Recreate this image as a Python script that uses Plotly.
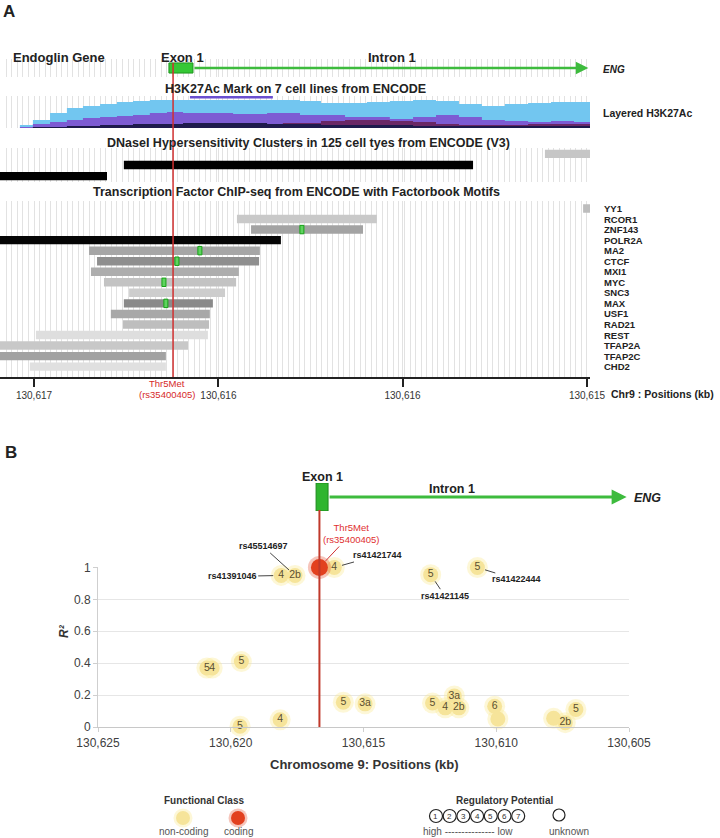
import plotly.graph_objects as go

W, H = 720, 838
FONT = "Liberation Sans, Arial, sans-serif"
NARROW = "Liberation Sans Narrow, Liberation Sans, Arial, sans-serif"

# ---------------- Panel A data (chr9 positions, kb) ----------------
A_RANGE = [130617.123, 130614.989]
A_TICK_VALS = [130617.0, 130616.333, 130615.667, 130615.0]
A_TICK_LABELS = ["130,617", "130,616", "130,616", "130,615"]
SNP_A = 130616.497

GENE_A_EXON = [130616.512, 130616.425]
GENE_A_END = 130614.995

H3K_POS = [130617.123, 130617.051, 130617.004, 130616.942, 130616.881, 130616.823,
           130616.761, 130616.700, 130616.642, 130616.581, 130616.519, 130616.461,
           130616.400, 130616.280, 130616.157, 130616.100, 130616.038, 130615.962,
           130615.875, 130615.796, 130615.713, 130615.629, 130615.546, 130615.463,
           130615.380, 130615.297, 130615.213, 130615.130, 130615.047, 130614.989]
H3K_LIGHTBLUE = [0, 3, 8, 15, 20, 22, 24, 26, 27, 28, 28, 28, 28, 28, 28, 28, 27, 25,
                 25, 26, 27, 28, 27, 24, 22, 24, 25, 26, 26, 23]
H3K_PURPLE = [0, 1, 4, 6, 8, 10, 11, 12, 13, 15, 16, 15, 15, 14, 15, 15, 13, 13,
              11, 11, 9, 11, 13, 11, 8, 7, 6, 7, 6, 6]
H3K_PLUM = [0, 0, 1, 1, 1, 2, 2, 2, 2, 2, 3, 3, 3, 3, 4, 5, 5, 7,
            8, 8, 7, 6, 4, 3, 3, 3, 4, 4, 4, 3]
H3K_NAVY = [0, 0, 1, 1, 2, 2, 3, 3, 4, 4, 4, 5, 5, 5, 4, 4, 4, 3,
            3, 3, 3, 2, 2, 2, 2, 2, 2, 2, 2, 2]
H3K_PEAK = [130616.436, 130616.136]
H3K_PEAK_LEVEL = 30.8

DNASE_START = [130615.152, 130616.675, 130617.2]
DNASE_END = [130614.989, 130615.412, 130616.736]
DNASE_ROW = [0, 1, 2]
DNASE_SHADE = ["#c6c6c6", "#000000", "#000000"]

TF_NAMES = ["YY1", "RCOR1", "ZNF143", "POLR2A", "MA2", "CTCF", "MXI1", "MYC", "SNC3",
            "MAX", "USF1", "RAD21", "REST", "TFAP2A", "TFAP2C", "CHD2"]
TF_START = [130615.014, 130616.266, 130616.215, 130617.2, 130616.801, 130616.772,
            130616.794, 130616.747, 130616.656, 130616.675, 130616.722, 130616.678,
            130616.993, 130617.2, 130617.2, 130617.015]
TF_END = [130614.989, 130615.760, 130615.810, 130616.107, 130616.183, 130616.186,
          130616.259, 130616.269, 130616.309, 130616.353, 130616.364, 130616.367,
          130616.371, 130616.443, 130616.523, 130616.523]
TF_SHADE = ["#bdbdbd", "#c9c9c9", "#a3a3a3", "#050505", "#a6a6a6", "#8f8f8f",
            "#adadad", "#c3c3c3", "#cdcdcd", "#8a8a8a", "#a8a8a8", "#bebebe",
            "#dedede", "#c8c8c8", "#a2a2a2", "#e0e0e0"]
MOTIF_TF = ["ZNF143", "MA2", "CTCF", "MYC", "MAX"]
MOTIF_POS = [130616.031, 130616.400, 130616.483, 130616.530, 130616.523]
MOTIF_LEN = 0.0145

# ---------------- Panel B data ----------------
B_TICK_VALS = [130625, 130620, 130615, 130610, 130605]
B_TICK_LABELS = ["130,625", "130,620", "130,615", "130,610", "130,605"]
R2_TICKS = [0, 0.2, 0.4, 0.6, 0.8, 1]
R2_LABELS = ["0", "0.2", "0.4", "0.6", "0.8", "1"]

SNP_B = 130616.66
SNP_B_R2 = 1.0
GENE_B_EXON = [130616.786, 130616.335]
GENE_B_END = 130605.09

NC_POS = [130620.90, 130620.70, 130619.60, 130619.65, 130618.14, 130618.10, 130617.58,
          130616.10, 130615.76, 130614.94, 130612.47, 130610.71, 130612.40, 130611.92,
          130611.58, 130611.41, 130610.06, 130609.94, 130607.84, 130607.40, 130607.00]
NC_R2 = [0.37, 0.37, 0.41, 0.005, 0.045, 0.95, 0.95, 1.0, 0.155, 0.145, 0.955, 1.0,
         0.15, 0.12, 0.195, 0.12, 0.13, 0.05, 0.055, 0.027, 0.11]
NC_RDB = ["5", "4", "5", "5", "4", "4", "2b", "4", "5", "3a", "5", "5", "5", "4",
          "3a", "2b", "6", "", "", "2b", "5"]

RS_IDS = ["rs41391046", "rs45514697", "rs41421744", "rs41421145", "rs41422444"]
RS_POS = [130618.10, 130617.58, 130616.10, 130612.47, 130610.71]
RS_R2 = [0.95, 0.95, 1.0, 0.955, 1.0]
RS_OFFSET = [(-49, 1), (-32, -29), (43, -12), (14, 21), (39, 12)]

RP_LEVELS = ["1", "2", "3", "4", "5", "6", "7"]


def pxx(x):
    return x / W


def pxy(y):
    return 1 - y / H


fig = go.Figure()

# ---- H3K27Ac layered signal ----
for vals, col in [(H3K_LIGHTBLUE, "#72c6f0"), (H3K_PURPLE, "#7d5bd3"),
                  (H3K_PLUM, "#6a2766"), (H3K_NAVY, "#1e1a4d")]:
    fig.add_trace(go.Scatter(x=H3K_POS, y=vals, mode="lines", line=dict(width=0, shape="hv"),
                             fill="tozeroy", fillcolor=col, xaxis="x", yaxis="y3",
                             hoverinfo="skip"))
fig.add_trace(go.Scatter(x=H3K_PEAK, y=[H3K_PEAK_LEVEL] * 2, mode="lines",
                         line=dict(color="#6a4fd0", width=2.5), xaxis="x", yaxis="y3"))

# ---- DNase clusters ----
fig.add_trace(go.Bar(orientation="h", y=DNASE_ROW, base=DNASE_END,
                     x=[s - e for s, e in zip(DNASE_START, DNASE_END)],
                     marker=dict(color=DNASE_SHADE, line=dict(width=0)), width=0.75,
                     xaxis="x", yaxis="y2"))

# ---- TF ChIP-seq ----
fig.add_trace(go.Bar(orientation="h", y=list(range(len(TF_NAMES))), base=TF_END,
                     x=[s - e for s, e in zip(TF_START, TF_END)],
                     marker=dict(color=TF_SHADE, line=dict(width=0)), width=0.8,
                     xaxis="x", yaxis="y"))
fig.add_trace(go.Bar(orientation="h", y=[TF_NAMES.index(t) for t in MOTIF_TF],
                     base=[p - MOTIF_LEN / 2 for p in MOTIF_POS], x=[MOTIF_LEN] * len(MOTIF_POS),
                     marker=dict(color="#5fd35f", line=dict(color="#17a317", width=1)),
                     width=0.8, xaxis="x", yaxis="y"))

# ---- Gene model A ----
fig.add_trace(go.Bar(orientation="h", y=[0.5], base=[GENE_A_EXON[1]],
                     x=[GENE_A_EXON[0] - GENE_A_EXON[1]],
                     marker=dict(color="#35c835", line=dict(color="#1f951f", width=1)),
                     width=0.56, xaxis="x", yaxis="y4"))

# ---- Panel B gene model ----
fig.add_trace(go.Bar(orientation="h", y=[0.5], base=[GENE_B_EXON[1]],
                     x=[GENE_B_EXON[0] - GENE_B_EXON[1]],
                     marker=dict(color="#2fb52f", line=dict(color="#1d8a1d", width=1)),
                     width=1.0, xaxis="x2", yaxis="y6"))

# ---- Panel B scatter ----
fig.add_trace(go.Scatter(x=NC_POS, y=NC_R2, mode="markers",
                         marker=dict(size=21, color="rgba(250,232,140,0.35)"),
                         xaxis="x2", yaxis="y5", cliponaxis=False, hoverinfo="skip"))
fig.add_trace(go.Scatter(x=NC_POS, y=NC_R2, mode="markers+text", text=NC_RDB,
                         textposition="middle center",
                         textfont=dict(family=FONT, size=10.5, color="#5a4f30"),
                         marker=dict(size=15, color="#f6e49a"),
                         xaxis="x2", yaxis="y5", cliponaxis=False))
fig.add_trace(go.Scatter(x=[SNP_B], y=[SNP_B_R2], mode="markers",
                         marker=dict(size=23, color="rgba(226,64,31,0.3)"),
                         xaxis="x2", yaxis="y5", cliponaxis=False))
fig.add_trace(go.Scatter(x=[SNP_B], y=[SNP_B_R2], mode="markers",
                         marker=dict(size=17, color="#e2401f"),
                         xaxis="x2", yaxis="y5", cliponaxis=False))

# ---------------- layout ----------------
noax = dict(showgrid=False, zeroline=False, showticklabels=False, showline=False, ticks="",
            automargin=False)

layout = dict(
    template="none",
    width=W, height=H, margin=dict(l=0, r=0, t=0, b=0, pad=0, autoexpand=False),
    autosize=False,
    paper_bgcolor="white", plot_bgcolor="rgba(0,0,0,0)", showlegend=False,
    barmode="overlay", font=dict(family=FONT, color="#222"),
    xaxis=dict(domain=[0, pxx(590)], range=A_RANGE, anchor="y", automargin=False,
               tickmode="array", tickvals=A_TICK_VALS, ticktext=A_TICK_LABELS,
               ticks="outside", ticklen=8, tickwidth=1.5, tickcolor="#222",
               tickfont=dict(size=10, color="#333"),
               showline=True, linecolor="#222", linewidth=1.5,
               showgrid=True, gridcolor="#e2e2e2", gridwidth=1, zeroline=False,
               minor=dict(tickmode="linear", tick0=130615.0, dtick=0.02, showgrid=True,
                          gridcolor="#e2e2e2", gridwidth=1, ticks="")),
    yaxis=dict(domain=[pxy(377.2), pxy(201.1)], range=[16.0, -0.7], anchor="x", **noax),
    yaxis2=dict(domain=[pxy(182), pxy(148)], range=[2.545, -0.545], anchor="x", **noax),
    yaxis3=dict(domain=[pxy(128), pxy(96)], range=[0, 32], anchor="x", **noax),
    yaxis4=dict(domain=[pxy(77), pxy(59)], range=[0, 1], anchor="x", **noax),
    xaxis2=dict(domain=[pxx(98), pxx(629)], range=[130625, 130605], anchor="y5",
                automargin=False,
                tickmode="array", tickvals=B_TICK_VALS, ticktext=B_TICK_LABELS,
                ticks="outside", ticklen=4, tickcolor="#cfcfcf",
                tickfont=dict(size=12, color="#404040"),
                showline=True, linecolor="#c8c8c8", linewidth=1.2,
                showgrid=False, zeroline=False),
    yaxis5=dict(domain=[pxy(727), pxy(567)], range=[0, 1.003], anchor="x2",
                automargin=False,
                tickmode="array", tickvals=R2_TICKS, ticktext=R2_LABELS,
                ticks="outside", ticklen=4, tickcolor="#cfcfcf",
                tickfont=dict(size=12, color="#404040"),
                showline=True, linecolor="#cfcfcf", linewidth=1,
                showgrid=True, gridcolor="#e6e6e6", zeroline=False),
    yaxis6=dict(domain=[pxy(511), pxy(483)], range=[0, 1], anchor="x2", **noax),
)
fig.update_layout(**layout)

shapes = [
    dict(type="line", xref="x", yref="paper", x0=SNP_A, x1=SNP_A, y0=pxy(377), y1=pxy(63),
         line=dict(color="#d03030", width=1.5)),
    dict(type="line", xref="x2", yref="paper", x0=SNP_B, x1=SNP_B, y0=pxy(727), y1=pxy(510),
         line=dict(color="#c0392b", width=2)),
]


def circ(cx, cy, r, fill, line_col, lw):
    return dict(type="circle", xref="paper", yref="paper",
                x0=pxx(cx - r), x1=pxx(cx + r), y0=pxy(cy + r), y1=pxy(cy - r),
                fillcolor=fill, line=dict(color=line_col, width=lw))


# legend glyphs (layout only)
shapes.append(circ(183, 818, 9.5, "rgba(250,232,140,0.35)", "rgba(0,0,0,0)", 0))
shapes.append(circ(183, 818, 7, "#f6e49a", "rgba(0,0,0,0)", 0))
shapes.append(circ(238, 818, 9.5, "rgba(226,64,31,0.3)", "rgba(0,0,0,0)", 0))
shapes.append(circ(238, 818, 7, "#e2401f", "rgba(0,0,0,0)", 0))
RP_X0, RP_STEP = 436, 13.7
for i in range(len(RP_LEVELS)):
    shapes.append(circ(RP_X0 + i * RP_STEP, 816, 6.5, "white", "#222", 1.2))
shapes.append(circ(559, 815, 6, "white", "#222", 1.2))
fig.update_layout(shapes=shapes)

ann = []


def txt(x, y, s, size, bold=False, color="#222", anchor="center", italic=False, fam=FONT):
    t = s
    if bold:
        t = "<b>" + t + "</b>"
    if italic:
        t = "<i>" + t + "</i>"
    ann.append(dict(x=pxx(x), y=pxy(y), xref="paper", yref="paper", text=t, showarrow=False,
                    xanchor=anchor, yanchor="middle",
                    font=dict(size=size, color=color, family=fam)))


txt(1, 12, "A", 17, bold=True, anchor="left")
txt(3, 452, "B", 17, bold=True, anchor="left")

# panel A texts
txt(11, 57, "Endoglin Gene", 13, bold=True, anchor="left")
txt(182, 57, "Exon 1", 13, bold=True)
txt(392, 57, "Intron 1", 13, bold=True)
txt(601, 70, "ENG", 10, bold=True, italic=True, anchor="left")
txt(295, 89, "H3K27Ac Mark on 7 cell lines from ENCODE", 12.5, bold=True)
txt(601, 113, "Layered H3K27Ac", 10.5, bold=True, anchor="left")
txt(308, 143, "DNaseI Hypersensitivity Clusters in 125 cell tyes from ENCODE (V3)", 12.5, bold=True)
txt(296, 192, "Transcription Factor ChIP-seq from ENCODE with Factorbook Motifs", 12.5, bold=True)
txt(609, 394, "Chr9 : Positions (kb)", 10.5, bold=True, anchor="left")

for i, name in enumerate(TF_NAMES):
    ann.append(dict(x=pxx(602), y=i, xref="paper", yref="y", text="<b>" + name + "</b>",
                    showarrow=False, xanchor="left", yanchor="middle",
                    font=dict(size=9.5, color="#222", family=NARROW)))

ann.append(dict(x=SNP_A, y=pxy(383), xref="x", yref="paper", xshift=-6,
                text="Thr5Met", showarrow=False, font=dict(size=9.5, color="#d62a2a")))
ann.append(dict(x=SNP_A, y=pxy(394), xref="x", yref="paper", xshift=-6,
                text="(rs35400405)", showarrow=False, font=dict(size=9.5, color="#d62a2a")))

# gene arrows
ann.append(dict(x=GENE_A_END, y=0.5, ax=GENE_A_EXON[1], ay=0.5, xref="x", yref="y4",
                axref="x", ayref="y4", text="", showarrow=True, arrowhead=2, arrowsize=1,
                arrowwidth=2.5, arrowcolor="#3dbb3d"))
ann.append(dict(x=GENE_B_END, y=0.5, ax=GENE_B_EXON[1], ay=0.5, xref="x2", yref="y6",
                axref="x2", ayref="y6", text="", showarrow=True, arrowhead=2, arrowsize=1,
                arrowwidth=3, arrowcolor="#3dbb3d"))

# panel B texts
txt(322, 477, "Exon 1", 12.5, bold=True)
txt(452, 489, "Intron 1", 12.5, bold=True)
txt(632, 498, "ENG", 12.5, bold=True, italic=True, anchor="left")
txt(364, 764, "Chromosome 9: Positions (kb)", 13, bold=True, color="#333")
ann.append(dict(x=pxx(55), y=pxy(640), xref="paper", yref="paper", text="<b><i>R²</i></b>",
                showarrow=False, textangle=-90, font=dict(size=12, color="#333")))

for rid, p, r, (dx, dy) in zip(RS_IDS, RS_POS, RS_R2, RS_OFFSET):
    ann.append(dict(x=p, y=r, xref="x2", yref="y5", text="<b>" + rid + "</b>",
                    showarrow=True, arrowhead=0, arrowwidth=1, arrowcolor="#444",
                    ax=dx, ay=dy, standoff=8, font=dict(size=9, color="#222")))
ann.append(dict(x=SNP_B, y=SNP_B_R2, xref="x2", yref="y5",
                text="Thr5Met<br>(rs35400405)", showarrow=True, arrowhead=0, arrowwidth=1,
                arrowcolor="#d03030", ax=32, ay=-34, standoff=9,
                font=dict(size=9.5, color="#e03030")))

# legends
txt(204, 800, "Functional Class", 10, bold=True, color="#333")
txt(183, 831, "non-coding", 10, color="#555")
txt(238, 831, "coding", 10, color="#555")
txt(505, 800, "Regulatory Potential", 10, bold=True, color="#333")
for i, lv in enumerate(RP_LEVELS):
    txt(RP_X0 + i * RP_STEP, 816, lv, 8, color="#333")
txt(468, 831, "high --------------- low", 10, color="#555")
txt(569, 831, "unknown", 10, color="#555")

fig.update_layout(annotations=ann)
fig.write_html("out.html", config={"displayModeBar": False},
               post_script="document.body.style.margin='0';document.body.style.overflow='hidden';")
